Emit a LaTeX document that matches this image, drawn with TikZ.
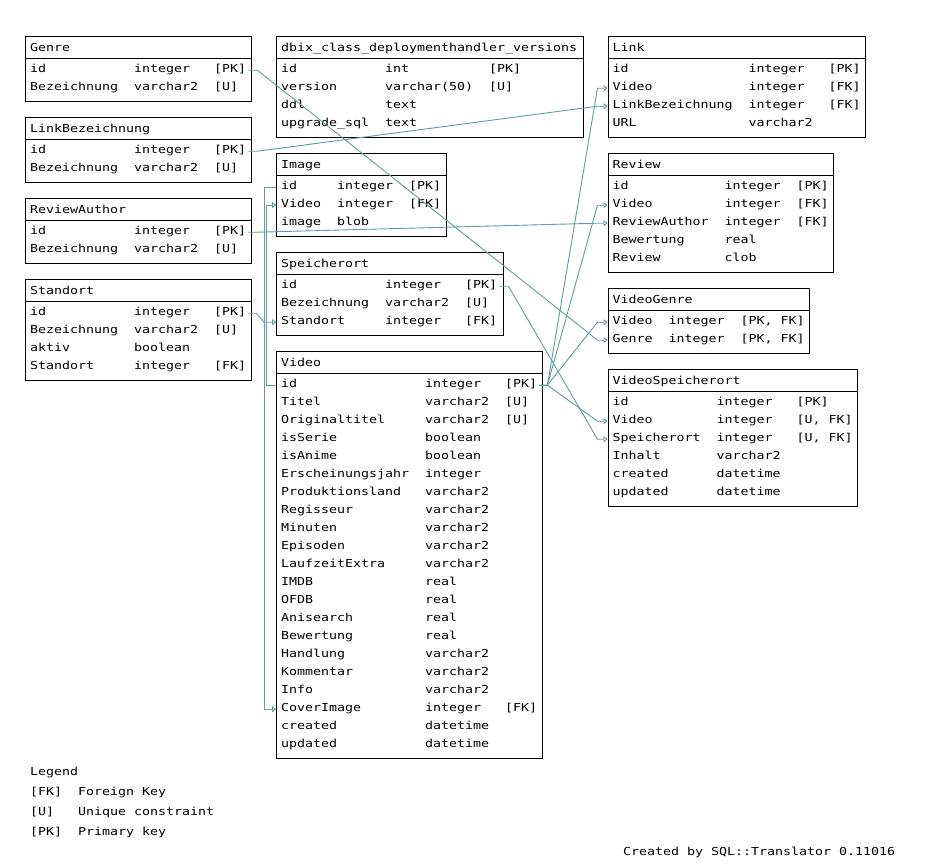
\documentclass[tikz,border=0pt]{standalone}
\usepackage{fontspec}
\newfontfamily\dmono[FakeStretch=1.208]{DejaVu Sans Mono}
\usetikzlibrary{calc,arrows.meta}
\definecolor{fkc}{HTML}{5F9EA0}
\tikzset{
  cell/.style={anchor=base west, inner sep=0pt, font=\dmono\fontsize{11}{13}\selectfont},
  tblbox/.style={draw=black, line width=1pt, anchor=north west, inner sep=0pt},
  sepline/.style={draw=black, line width=1pt},
  fkline/.style={draw=fkc, line width=0.9pt, -{Triangle[open,length=4pt,width=6pt]}},
}
% #1 id, #2 title, #3 left, #4 top, #5 width, #6 rows, #7 col2 offset, #8 col3 offset, #9 rows
\newcommand\mktable[9]{%
  \pgfmathsetmacro\tbh{29.5+18*#6}
  \node[tblbox, minimum width=#5pt, minimum height=\tbh pt] (#1) at (#3,#4) {};
  \draw[sepline] (#3,#4+22.8) -- ++(#5,0);
  \node[cell] (#1-title) at (#3+5,#4+16) {#2};
  \foreach \rn/\rt/\rc [count=\ri] in {#9} {
    \pgfmathsetmacro\ry{#4+32.5+18*(\ri-1)}
    \coordinate (#1-\ri-w) at (#3,\ry+2);
    \node[cell] (#1-\ri) at (#3+5,\ry+4) {\rn};
    \node[cell] (#1-\ri-t) at (#3+5+#7,\ry+4) {\rt};
    \node[cell] (#1-\ri-c) at (#3+5+#8,\ry+4) {\rc};
  }
}
\begin{document}
\begin{tikzpicture}[x=1pt,y=-1pt]
\useasboundingbox (0,0) rectangle (925,863);
\fill[white] (0,0) rectangle (925,863);

\mktable{genre}{Genre}{25}{35.7}{226}{2}{104}{184}{id/integer/[PK], Bezeichnung/varchar2/[U]}
\mktable{linkbez}{LinkBezeichnung}{25}{116.7}{226}{2}{104}{184}{id/integer/[PK], Bezeichnung/varchar2/[U]}
\mktable{reviewauthor}{ReviewAuthor}{25}{197.7}{226}{2}{104}{184}{id/integer/[PK], Bezeichnung/varchar2/[U]}
\mktable{standort}{Standort}{25}{278.7}{226}{4}{104}{184}{id/integer/[PK], Bezeichnung/varchar2/[U], aktiv/boolean/{}, Standort/integer/[FK]}

\mktable{dbix}{dbix\_class\_deploymenthandler\_versions}{276}{35.7}{306.5}{4}{104}{208}{id/int/[PK], version/varchar(50)/[U], ddl/text/{}, upgrade\_sql/text/{}}
\mktable{image}{Image}{276}{152.7}{170.3}{3}{56}{128}{id/integer/[PK], Video/integer/[FK], image/blob/{}}
\mktable{speicherort}{Speicherort}{276}{251.7}{226.7}{3}{104}{184}{id/integer/[PK], Bezeichnung/varchar2/[U], Standort/integer/[FK]}
\mktable{video}{Video}{276}{350.7}{266.3}{21}{144}{224}{id/integer/[PK], Titel/varchar2/[U], Originaltitel/varchar2/[U], isSerie/boolean/{}, isAnime/boolean/{}, Erscheinungsjahr/integer/{}, Produktionsland/varchar2/{}, Regisseur/varchar2/{}, Minuten/varchar2/{}, Episoden/varchar2/{}, LaufzeitExtra/varchar2/{}, IMDB/real/{}, OFDB/real/{}, Anisearch/real/{}, Bewertung/real/{}, Handlung/varchar2/{}, Kommentar/varchar2/{}, Info/varchar2/{}, CoverImage/integer/[FK], created/datetime/{}, updated/datetime/{}}

\mktable{link}{Link}{607.5}{35.7}{257.8}{4}{136}{216}{id/integer/[PK], Video/integer/[FK], LinkBezeichnung/integer/[FK], URL/varchar2/{}}
\mktable{review}{Review}{607.5}{152.7}{225.8}{5}{112}{184}{id/integer/[PK], Video/integer/[FK], ReviewAuthor/integer/[FK], Bewertung/real/{}, Review/clob/{}}
\mktable{videogenre}{VideoGenre}{607.5}{287.7}{201.8}{2}{56}{128}{Video/integer/{[PK, FK]}, Genre/integer/{[PK, FK]}}
\mktable{videospeicherort}{VideoSpeicherort}{607.5}{368.7}{249.8}{6}{104}{184}{id/integer/[PK], Video/integer/{[U, FK]}, Speicherort/integer/{[U, FK]}, Inhalt/varchar2/{}, created/datetime/{}, updated/datetime/{}}

% connectors
\draw[fkline] ($(genre-1-c.east|-genre-1-w)+(2,0)$) -- ++(9,0) -- ($(videogenre-2-w)+(-10,0)$) -- (videogenre-2-w);
\draw[fkline] ($(linkbez-1-c.east|-linkbez-1-w)+(2,0)$) -- ++(9,0) -- ($(link-3-w)+(-10,0)$) -- (link-3-w);
\draw[fkline] ($(reviewauthor-1-c.east|-reviewauthor-1-w)+(2,0)$) -- ++(9,0) -- ($(review-3-w)+(-10,0)$) -- (review-3-w);
\draw[fkline] ($(standort-1-c.east|-standort-1-w)+(2,0)$) -- ++(8,0) -- ($(speicherort-3-w)+(-12,0)$) -- (speicherort-3-w);
\draw[fkline] ($(speicherort-1-c.east|-speicherort-1-w)+(2,0)$) -- ++(9,0) -- ($(videospeicherort-3-w)+(-10,0)$) -- (videospeicherort-3-w);
\draw[fkline] ($(video-1-c.east|-video-1-w)+(2,0)$) -- ++(8,0) -- ($(link-2-w)+(-10,0)$) -- (link-2-w);
\draw[fkline] ($(video-1-c.east|-video-1-w)+(2,0)$) -- ++(8,0) -- ($(review-2-w)+(-10,0)$) -- (review-2-w);
\draw[fkline] ($(video-1-c.east|-video-1-w)+(2,0)$) -- ++(8,0) -- ($(videogenre-1-w)+(-10,0)$) -- (videogenre-1-w);
\draw[fkline] ($(video-1-c.east|-video-1-w)+(2,0)$) -- ++(8,0) -- ($(videospeicherort-2-w)+(-10,0)$) -- (videospeicherort-2-w);
\draw[fkline] (image-1-w) -- ($(image-1-w)+(-12,0)$) |- (video-19-w);
\draw[fkline] (video-1-w) -- ($(video-1-w)+(-10,0)$) |- (image-2-w);

% legend
\node[cell] (legend) at (30,775) {Legend};
\node[cell] (lg-fk) at (30,795) {[FK]};
\node[cell] (lg-fk-t) at (78,795) {Foreign Key};
\node[cell] (lg-u) at (30,815) {[U]};
\node[cell] (lg-u-t) at (78,815) {Unique constraint};
\node[cell] (lg-pk) at (30,835) {[PK]};
\node[cell] (lg-pk-t) at (78,835) {Primary key};
\node[cell] (footer) at (623,855) {Created by SQL::Translator 0.11016};
\end{tikzpicture}
\end{document}
